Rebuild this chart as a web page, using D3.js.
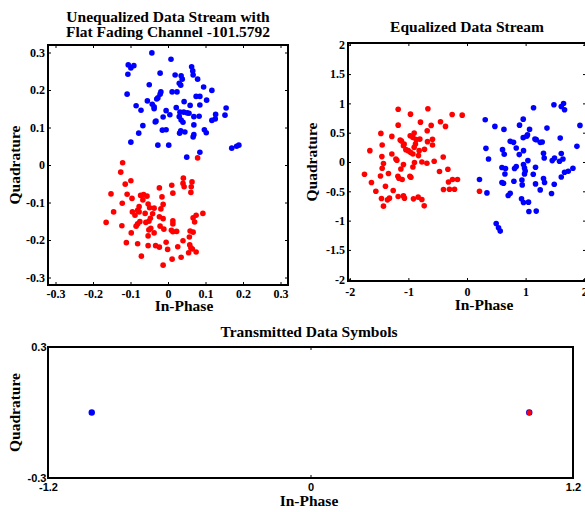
<!DOCTYPE html>
<html>
<head>
<meta charset="utf-8">
<script src="https://cdn.jsdelivr.net/npm/d3@7"></script>
<style>
  body { margin: 0; background: #fff; }
  svg { display: block; }
  .ttl { font-family: "Liberation Serif", "Times New Roman", serif; font-weight: bold; font-size: 15.5px; fill: #000; }
  .serif-tick text { font-family: "Liberation Serif", "Times New Roman", serif; font-weight: bold; font-size: 12px; fill: #000; }
  .sans-tick text { font-family: "Liberation Sans", Arial, sans-serif; font-weight: bold; font-size: 11px; fill: #000; }
</style>
</head>
<body>
<svg id="chart" width="585" height="512"></svg>
<script>
// [in-phase, quadrature] pairs
const unequalizedBlue = [
  [-0.043,0.299],[0.008,0.282],[-0.106,0.267],[-0.099,0.259],[-0.091,0.265],[0.063,0.262],[0.066,0.251],[0.067,0.24],
  [-0.107,0.242],[-0.021,0.245],[0.019,0.24],[0.035,0.238],[0.038,0.229],[0.079,0.229],[0.03,0.218],[0.034,0.213],
  [-0.05,0.214],[0.095,0.208],[0.117,0.199],[-0.019,0.195],[-0.021,0.189],[0.011,0.195],[0.024,0.195],[-0.109,0.189],
  [-0.027,0.179],[-0.03,0.176],[0.075,0.183],[0.085,0.183],[-0.055,0.171],[0.043,0.169],[0.103,0.173],[-0.042,0.162],
  [-0.037,0.155],[-0.037,0.15],[-0.085,0.158],[0.059,0.159],[0.085,0.16],[-0.072,0.146],[-0.005,0.145],[0.022,0.153],
  [0.032,0.141],[0.042,0.141],[0.051,0.139],[0.056,0.138],[0.155,0.152],[0.152,0.133],[0.005,0.134],[-0.013,0.128],
  [0.03,0.129],[0.035,0.12],[0.04,0.114],[0.069,0.129],[0.083,0.13],[0.127,0.135],[0.126,0.123],[0.117,0.119],
  [-0.032,0.117],[-0.034,0.115],[-0.067,0.105],[0.069,0.107],[0.097,0.094],[0.102,0.086],[-0.015,0.093],[-0.005,0.094],
  [0.034,0.091],[0.031,0.085],[0.045,0.088],[-0.078,0.085],[0.069,0.081],[0.067,0.075],[-0.099,0.061],[-0.027,0.053],
  [0.002,0.053],[0.085,0.034],[0.17,0.045],[0.183,0.05],[0.189,0.053],[0.05,0.021]
];
const unequalizedRed = [
  [0.079,0.019],[-0.121,0.006],[-0.126,-0.019],[-0.114,-0.051],[-0.099,-0.042],[0.041,-0.035],[0.04,-0.049],[0.043,-0.058],
  [0.064,-0.045],[0.062,-0.058],[0.061,-0.073],[0.01,-0.054],[0.013,-0.075],[-0.023,-0.061],[-0.152,-0.077],[-0.109,-0.078],
  [-0.073,-0.081],[-0.065,-0.079],[-0.056,-0.083],[-0.096,-0.089],[-0.067,-0.093],[-0.016,-0.085],[-0.122,-0.102],[-0.053,-0.104],
  [-0.049,-0.114],[-0.037,-0.115],[-0.013,-0.105],[-0.019,-0.117],[-0.077,-0.111],[-0.081,-0.121],[-0.077,-0.125],[-0.095,-0.125],
  [-0.088,-0.134],[-0.061,-0.129],[-0.041,-0.13],[0.093,-0.129],[0.075,-0.134],[0.067,-0.141],[0.071,-0.152],[-0.145,-0.125],
  [-0.023,-0.138],[-0.013,-0.143],[-0.047,-0.142],[-0.051,-0.15],[-0.059,-0.153],[-0.075,-0.151],[-0.081,-0.157],[-0.085,-0.163],
  [0.013,-0.149],[0.013,-0.157],[-0.165,-0.153],[-0.123,-0.162],[-0.021,-0.163],[-0.011,-0.171],[-0.046,-0.169],[-0.051,-0.173],
  [0.009,-0.174],[0.013,-0.178],[0.023,-0.177],[0.059,-0.176],[0.067,-0.179],[-0.098,-0.181],[-0.037,-0.181],[-0.053,-0.189],
  [0.057,-0.192],[0.04,-0.202],[-0.111,-0.207],[-0.081,-0.21],[-0.005,-0.206],[-0.053,-0.215],[-0.033,-0.215],[-0.023,-0.219],
  [0.026,-0.218],[0.058,-0.213],[0.061,-0.221],[0.065,-0.224],[-0.001,-0.225],[0.075,-0.232],[0.055,-0.234],[-0.071,-0.243],
  [0.035,-0.246],[0.011,-0.251],[-0.013,-0.267]
];
const equalizedBlue = [
  [1.135,0.925],[1.483,0.976],[1.647,0.998],[1.608,0.947],[1.664,0.891],[0.311,0.721],[0.476,0.607],[0.63,0.556],
  [0.959,0.731],[0.896,0.629],[1.067,0.556],[1.364,0.578],[1.927,0.624],[0.959,0.415],[1.022,0.442],[1.032,0.466],
  [1.159,0.391],[1.181,0.381],[1.249,0.335],[1.283,0.34],[1.59,0.408],[0.737,0.352],[0.794,0.335],[0.84,0.238],
  [0.964,0.194],[0.891,0.126],[0.323,0.233],[0.606,0.211],[0.635,0.131],[1.875,0.267],[1.305,0.148],[1.608,0.143],
  [0.367,0.051],[1.039,0.024],[1.317,0.068],[1.454,0.024],[1.493,0.068],[1.578,0.012],[1.637,0.051],[0.596,-0.095],
  [0.657,-0.112],[0.811,-0.112],[0.84,-0.078],[0.964,-0.044],[0.981,-0.102],[0.993,-0.153],[0.981,-0.204],[1.169,-0.09],
  [0.647,-0.204],[1.13,-0.209],[1.664,-0.175],[1.727,-0.158],[1.807,-0.107],[1.608,-0.255],[0.213,-0.299],[0.596,-0.35],
  [0.623,-0.362],[0.8,-0.328],[0.937,-0.306],[0.942,-0.391],[1.169,-0.374],[1.305,-0.282],[1.323,-0.35],[1.488,-0.379],
  [0.34,-0.527],[1.249,-0.476],[0.737,-0.532],[0.703,-0.571],[1.442,-0.537],[0.93,-0.629],[0.964,-0.69],[1.049,-0.685],
  [1.056,-0.844],[1.181,-0.838],[0.498,-1.048],[0.538,-1.122],[0.567,-1.179]
];
const equalizedRed = [
  [-1.174,0.901],[-0.964,0.816],[-0.667,0.908],[-0.253,0.811],[-0.082,0.799],[-1.174,0.629],[-0.794,0.68],[-0.611,0.624],
  [-0.452,0.687],[-0.367,0.607],[-0.679,0.534],[-1.469,0.488],[-1.282,0.437],[-0.969,0.449],[-0.901,0.493],[-0.923,0.42],
  [-0.867,0.381],[-0.804,0.391],[-1.14,0.374],[-1.118,0.357],[-1.072,0.306],[-1.084,0.279],[-1.043,0.211],[-0.901,0.25],
  [-0.879,0.306],[-0.674,0.347],[-0.589,0.386],[-0.589,0.289],[-1.447,0.289],[-1.657,0.194],[-1.003,0.194],[-0.964,0.165],
  [-0.923,0.136],[-0.816,0.194],[-0.725,0.216],[-1.282,0.136],[-0.828,0.109],[-1.452,0.092],[-1.213,0.051],[-1.196,0.029],
  [-0.406,0.085],[-0.896,-0.01],[-0.77,0.0],[-0.684,-0.022],[-0.56,0.012],[-1.425,-0.027],[-1.447,-0.107],[-1.084,-0.044],
  [-1.128,-0.119],[-0.923,-0.085],[-1.749,-0.209],[-1.476,-0.238],[-1.34,-0.197],[-1.179,-0.243],[-1.162,-0.277],[-1.106,-0.299],
  [-0.974,-0.243],[-0.957,-0.26],[-0.469,-0.163],[-0.326,-0.124],[-0.316,-0.34],[-0.247,-0.299],[-0.162,-0.299],[-1.63,-0.35],
  [-1.391,-0.413],[-1.259,-0.486],[-1.555,-0.498],[-0.401,-0.469],[-0.299,-0.464],[-0.213,-0.464],[-1.174,-0.588],[-1.084,-0.578],
  [-1.067,-0.617],[-1.459,-0.622],[-1.323,-0.617],[-1.357,-0.646],[-0.913,-0.629],[-0.833,-0.6],[-0.77,-0.639],[-0.73,-0.748],
  [-1.425,-0.753],[0.213,-0.498]
];
const transmittedBlue = [[-1, 0], [1, 0]];
const transmittedRed = [[1, 0]];

const unequalizedTicks = [-0.3, -0.2, -0.1, 0, 0.1, 0.2, 0.3];
const equalizedXTicks = [-2, -1, 0, 1, 2];
const equalizedYTicks = [-2, -1.5, -1, -0.5, 0, 0.5, 1, 1.5, 2];
const transmittedXTicks = [-1.2, 0, 1.2];
const transmittedYTicks = [-0.3, 0.3];

const svg = d3.select("#chart");

function panel(p) {
  const x = d3.scaleLinear().domain(p.xDomain).range(p.xRange);
  const y = d3.scaleLinear().domain(p.yDomain).range(p.yRange);
  const [x0, x1] = p.xRange, [y1, y0] = p.yRange;
  const g = svg.append("g");
  const fmt = d => String(d);

  // inward ticks on all four sides
  const bottom = g.append("g").attr("class", p.tickClass)
    .attr("transform", `translate(0,${y1})`)
    .call(d3.axisBottom(x).tickValues(p.xTicks).tickSize(-3).tickPadding(p.xPad).tickFormat(fmt));
  g.append("g").attr("transform", `translate(0,${y0})`)
    .call(d3.axisTop(x).tickValues(p.xTicks).tickSize(-3).tickFormat(""));
  g.append("g").attr("class", p.tickClass)
    .attr("transform", `translate(${x0},0)`)
    .call(d3.axisLeft(y).tickValues(p.yTicks).tickSize(-3).tickPadding(p.yPad).tickFormat(fmt));
  g.append("g").attr("transform", `translate(${x1},0)`)
    .call(d3.axisRight(y).tickValues(p.yTicks).tickSize(-3).tickFormat(""));
  g.selectAll(".domain").remove();
  g.selectAll(".tick line").attr("stroke", "#000").attr("stroke-width", 1);

  g.append("rect")
    .attr("x", x0).attr("y", y0)
    .attr("width", x1 - x0).attr("height", y1 - y0)
    .attr("fill", "none").attr("stroke", "#000").attr("stroke-width", 2);

  const dots = g.append("g");
  p.series.forEach(s => {
    dots.selectAll(null)
      .data(s.data)
      .enter()
      .append("circle")
      .attr("cx", d => x(d[0]))
      .attr("cy", d => y(d[1]))
      .attr("r", s.r)
      .attr("fill", s.color);
  });

  const title = g.append("text").attr("class", "ttl").attr("text-anchor", "middle");
  p.title.forEach((line, i) => {
    title.append("tspan").attr("x", p.titleX).attr("y", p.titleY + i * 15.5).text(line);
  });
  g.append("text").attr("class", "ttl").attr("text-anchor", "middle")
    .attr("x", p.xLabelX).attr("y", p.xLabelY).text("In-Phase");
  g.append("text").attr("class", "ttl").attr("text-anchor", "middle")
    .attr("transform", `translate(${p.yLabelX},${p.yLabelY}) rotate(-90)`)
    .attr("dy", "0.3em").text("Quadrature");
}

panel({
  xDomain: [-0.32, 0.32], xRange: [48, 288],
  yDomain: [-0.32, 0.32], yRange: [285, 45],
  xTicks: unequalizedTicks, yTicks: unequalizedTicks,
  tickClass: "serif-tick", xPad: 4, yPad: 3,
  series: [{ data: unequalizedBlue, color: "#0000ff", r: 2.8 }, { data: unequalizedRed, color: "#ff0000", r: 2.8 }],
  title: ["Unequalized Data Stream with", "Flat Fading Channel -101.5792"], titleX: 168, titleY: 21.5,
  xLabelX: 184, xLabelY: 311, yLabelX: 15, yLabelY: 165
});

panel({
  xDomain: [-2.03, 2.03], xRange: [348, 586],
  yDomain: [-2.03, 2.03], yRange: [281, 43],
  xTicks: equalizedXTicks, yTicks: equalizedYTicks,
  tickClass: "serif-tick", xPad: 6.5, yPad: 3,
  series: [{ data: equalizedBlue, color: "#0000ff", r: 2.8 }, { data: equalizedRed, color: "#ff0000", r: 2.8 }],
  title: ["Equalized Data Stream"], titleX: 467, titleY: 31.5,
  xLabelX: 484, xLabelY: 310, yLabelX: 312, yLabelY: 162
});

panel({
  xDomain: [-1.2, 1.2], xRange: [48, 573],
  yDomain: [-0.3, 0.3], yRange: [478, 347],
  xTicks: transmittedXTicks, yTicks: transmittedYTicks,
  tickClass: "sans-tick", xPad: 5, yPad: 1.5,
  series: [{ data: transmittedBlue, color: "#0000ff", r: 3.2 }, { data: transmittedRed, color: "#ff0000", r: 2.6 }],
  title: ["Transmitted Data Symbols"], titleX: 309, titleY: 336.5,
  xLabelX: 309, xLabelY: 505.5, yLabelX: 15, yLabelY: 412.5
});
</script>
</body>
</html>
